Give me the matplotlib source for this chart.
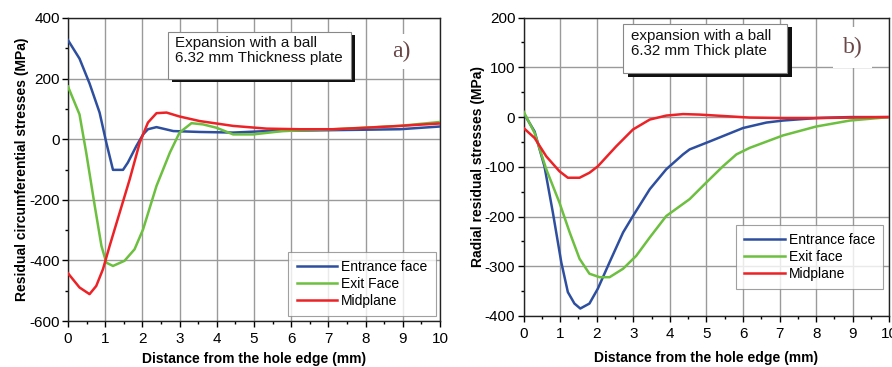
import matplotlib
matplotlib.use("Agg")
import matplotlib.pyplot as plt
from matplotlib.patches import Rectangle
from matplotlib.ticker import MultipleLocator

plt.rcParams['font.family'] = ['Liberation Sans', 'DejaVu Sans']
plt.rcParams['axes.unicode_minus'] = False

# (a) circumferential residual stresses
circ_entrance_x = [0, 0.31, 0.58, 0.85, 1.03, 1.21, 1.48, 1.61, 1.84, 2.02, 2.15, 2.38, 2.83, 3.54, 4.44, 5.34, 7.13, 8.92, 10]
circ_entrance_y = [327, 266, 184, 88, -11, -101, -101, -77, -22, 16, 33, 40, 27, 24, 22, 27, 30, 33, 42]

circ_exit_x = [0, 0.31, 0.49, 0.72, 0.9, 1.03, 1.21, 1.52, 1.79, 2.02, 2.38, 2.74, 3.0, 3.32, 3.63, 3.99, 4.44, 4.98, 5.78, 7.13, 8.92, 10]
circ_exit_y = [174, 82, -44, -220, -352, -407, -418, -401, -363, -297, -154, -44, 22, 53, 49, 38, 16, 16, 27, 33, 44, 57]

circ_mid_x = [0, 0.31, 0.58, 0.76, 0.94, 1.12, 1.39, 1.66, 1.93, 2.15, 2.38, 2.65, 3.0, 3.54, 4.44, 5.34, 6.23, 7.13, 8.03, 8.92, 10]
circ_mid_y = [-442, -489, -511, -484, -429, -352, -242, -132, -11, 55, 86, 88, 75, 60, 44, 35, 33, 33, 38, 44, 52]

# (b) radial residual stresses
rad_entrance_x = [0, 0.3, 0.57, 0.8, 1.03, 1.21, 1.39, 1.55, 1.8, 2.03, 2.35, 2.72, 2.99, 3.45, 3.9, 4.36, 4.54, 5.09, 6.0, 6.64, 7.09, 8.0, 8.92, 10]
rad_entrance_y = [8, -29, -99, -192, -292, -352, -375, -385, -375, -345, -292, -232, -199, -145, -105, -75, -65, -49, -22, -11, -7, -2, 0, 0]

rad_exit_x = [0, 0.3, 0.62, 0.98, 1.26, 1.53, 1.8, 2.08, 2.35, 2.72, 3.08, 3.45, 3.9, 4.54, 4.99, 5.45, 5.82, 6.18, 7.09, 8.0, 8.92, 10]
rad_exit_y = [11, -32, -105, -172, -232, -285, -315, -322, -322, -305, -279, -242, -199, -165, -132, -99, -75, -62, -37, -19, -7, 0]

rad_mid_x = [0, 0.3, 0.62, 0.98, 1.21, 1.53, 1.8, 2.03, 2.53, 2.99, 3.45, 3.9, 4.36, 4.81, 5.27, 6.18, 7.09, 8.0, 8.92, 10]
rad_mid_y = [-22, -42, -79, -109, -122, -122, -112, -99, -59, -25, -5, 3, 6, 5, 3, -1, -2, -2, -1, 0]

BLUE = '#2e4f9f'
GREEN = '#6cbf3f'
RED = '#ec2226'
GRID = '#9a9a9a'

fig = plt.figure(figsize=(8.92, 3.67), dpi=100)
ax1 = fig.add_axes([0.0762, 0.125, 0.417, 0.826])
ax2 = fig.add_axes([0.587, 0.139, 0.41, 0.813])


def style_axes(ax, ylim, ymajor, yminor, xlabelpad):
    ax.set_xlim(0, 10)
    ax.set_ylim(*ylim)
    ax.xaxis.set_major_locator(MultipleLocator(1))
    ax.xaxis.set_minor_locator(MultipleLocator(0.5))
    ax.yaxis.set_major_locator(MultipleLocator(ymajor))
    ax.yaxis.set_minor_locator(MultipleLocator(yminor))
    ax.grid(True, which='major', color=GRID, linewidth=1.0)
    ax.set_axisbelow(True)
    ax.tick_params(which='major', direction='out', length=4, width=1, labelsize=11)
    ax.tick_params(axis='x', which='major', pad=4)
    ax.tick_params(axis='y', which='major', pad=2)
    ax.tick_params(which='minor', direction='out', length=2.5, width=1)
    for s in ax.spines.values():
        s.set_linewidth(1.0)
        s.set_color('#222222')
    ax.set_xlabel('Distance from the hole edge (mm)', fontsize=10, fontweight='bold',
                  labelpad=xlabelpad)


def text_box(ax, x0, y0, x1, y1, dx, dy, lines_text, tx, ty):
    ax.add_patch(Rectangle((x0 + dx, y0 - dy), x1 - x0, y1 - y0, transform=ax.transAxes,
                           facecolor='#111111', edgecolor='none', zorder=5))
    ax.add_patch(Rectangle((x0, y0), x1 - x0, y1 - y0, transform=ax.transAxes,
                           facecolor='white', edgecolor='#888888', linewidth=0.8, zorder=6))
    ax.text(tx, ty, lines_text, transform=ax.transAxes, fontsize=10.9, va='top', ha='left',
            linespacing=1.12, zorder=7, color='#111111')


# panel (a)
style_axes(ax1, (-600, 400), 200, 100, 4)
ax1.plot(circ_entrance_x, circ_entrance_y, color=BLUE, lw=1.8, label='Entrance face', zorder=3)
ax1.plot(circ_exit_x, circ_exit_y, color=GREEN, lw=1.8, label='Exit Face', zorder=3)
ax1.plot(circ_mid_x, circ_mid_y, color=RED, lw=1.8, label='Midplane', zorder=3)
ax1.set_ylabel('Residual circumferential stresses (MPa)', fontsize=10, fontweight='bold', labelpad=0)
text_box(ax1, 0.269, 0.799, 0.761, 0.954, 0.011, 0.011,
         'Expansion with a ball\n6.32 mm Thickness plate', 0.287, 0.94)
ax1.text(0.895, 0.89, 'a)', transform=ax1.transAxes, fontsize=17, family='Liberation Serif',
         color='#6a4646', ha='center', va='center', zorder=4,
         bbox=dict(facecolor='white', edgecolor='none', pad=5))
leg1 = ax1.legend(loc='lower right', bbox_to_anchor=(0.989, 0.017), fontsize=10,
                  frameon=True, fancybox=False, handlelength=2.9, handletextpad=0.3,
                  labelspacing=0.2, borderpad=0.6, borderaxespad=0)
leg1.get_frame().set_edgecolor('#888888')
leg1.get_frame().set_linewidth(0.8)
leg1.set_zorder(8)

# panel (b)
style_axes(ax2, (-400, 200), 100, 50, 7)
ax2.plot(rad_entrance_x, rad_entrance_y, color=BLUE, lw=1.8, label='Entrance face', zorder=3)
ax2.plot(rad_exit_x, rad_exit_y, color=GREEN, lw=1.8, label='Exit face', zorder=3)
ax2.plot(rad_mid_x, rad_mid_y, color=RED, lw=1.8, label='Midplane', zorder=3)
ax2.set_ylabel('Radial residual stresses (MPa)', fontsize=10, fontweight='bold', labelpad=0)
text_box(ax2, 0.271, 0.815, 0.721, 0.980, 0.014, 0.013,
         'expansion with a ball\n6.32 mm Thick plate', 0.293, 0.962)
ax2.text(0.9, 0.9, 'b)', transform=ax2.transAxes, fontsize=17, family='Liberation Serif',
         color='#6a4646', ha='center', va='center', zorder=4,
         bbox=dict(facecolor='white', edgecolor='none', pad=7))
leg2 = ax2.legend(loc='lower right', bbox_to_anchor=(0.984, 0.09), fontsize=10,
                  frameon=True, fancybox=False, handlelength=2.9, handletextpad=0.3,
                  labelspacing=0.2, borderpad=0.6, borderaxespad=0)
leg2.get_frame().set_edgecolor('#888888')
leg2.get_frame().set_linewidth(0.8)
leg2.set_zorder(8)

fig.savefig('out.png', dpi=100)
